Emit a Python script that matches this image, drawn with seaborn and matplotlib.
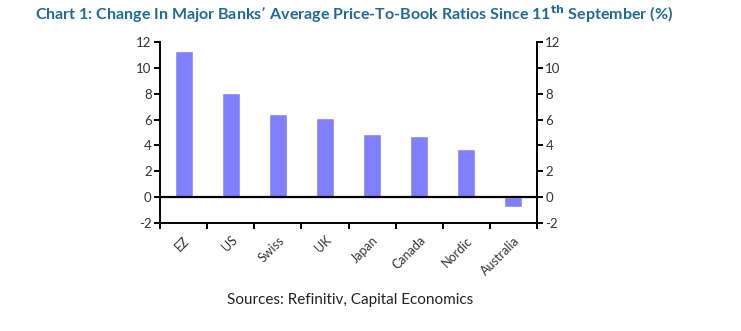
import matplotlib
matplotlib.use("Agg")
import matplotlib.pyplot as plt
import seaborn as sns
import pandas as pd
import numpy as np

categories = ["EZ", "US", "Swiss", "UK", "Japan", "Canada", "Nordic", "Australia"]
values = [11.3, 8.05, 6.4, 6.1, 4.9, 4.75, 3.7, -0.8]
yticks = [-2, 0, 2, 4, 6, 8, 10, 12]

sns.set_theme(style="white")
plt.rcParams['font.family'] = ['Lato', 'DejaVu Sans']

df = pd.DataFrame({"cat": categories, "val": values})

fig = plt.figure(figsize=(7.41, 3.31), dpi=100)
ax = fig.add_axes([160/741, 1-223/331, (537-160)/741, (223-42)/331])
sns.barplot(data=df, x="cat", y="val", color="#8080FF", saturation=1, width=0.38, ax=ax)
ax.set_xlim(-0.5, len(categories)-0.5)
ax.set_ylim(-2, 12)
ax.set_yticks(yticks)
ax.set_yticklabels([str(t) for t in yticks])
ax.set_xlabel("")
ax.set_ylabel("")
ax.axhline(0, color="black", lw=1.6, zorder=3)

for s in ["left", "bottom", "right"]:
    ax.spines[s].set_visible(True)
    ax.spines[s].set_color("black")
    ax.spines[s].set_linewidth(1.4)
ax.spines["top"].set_visible(False)

# x ticks at boundaries
ax.set_xticks(np.arange(len(categories)+1) - 0.5, minor=False)
ax.set_xticklabels([""] * (len(categories)+1))
ax.set_xticks(np.arange(len(categories)), minor=True)
ax.set_xticklabels(categories, minor=True, rotation=45, ha="right", rotation_mode="anchor",
                   fontsize=9, color="#333333")
ax.tick_params(axis="x", which="major", direction="out", length=4, width=1.4, color="black", bottom=True)
ax.tick_params(axis="x", which="minor", length=0, pad=8)
ax.tick_params(axis="y", direction="out", length=4, width=1.4, color="black", left=True,
               labelsize=9.5, labelcolor="#333333", pad=2)

ax2 = ax.twinx()
ax2.set_ylim(-2, 12)
ax2.set_yticks(yticks)
ax2.set_yticklabels([str(t) for t in yticks])
for s in ["left", "bottom", "top"]:
    ax2.spines[s].set_visible(False)
ax2.spines["right"].set_color("black")
ax2.spines["right"].set_linewidth(1.4)
ax2.tick_params(axis="y", direction="out", length=4, width=1.4, color="black", right=True,
                labelsize=9.5, labelcolor="#333333", pad=2)

fig.text(35/741, 1-14/331, "Chart 1: Change In Major Banks\u2019 Average Price-To-Book Ratios Since 11$^{\\mathbf{th}}$ September (%)",
         fontsize=11.5, fontweight="bold", color="#1F6B96", ha="left", va="center")
fig.text(350/741, 1-300/331, "Sources: Refinitiv, Capital Economics", fontsize=11, color="#222222",
         ha="center", va="center")

fig.savefig("out.png", dpi=100)
